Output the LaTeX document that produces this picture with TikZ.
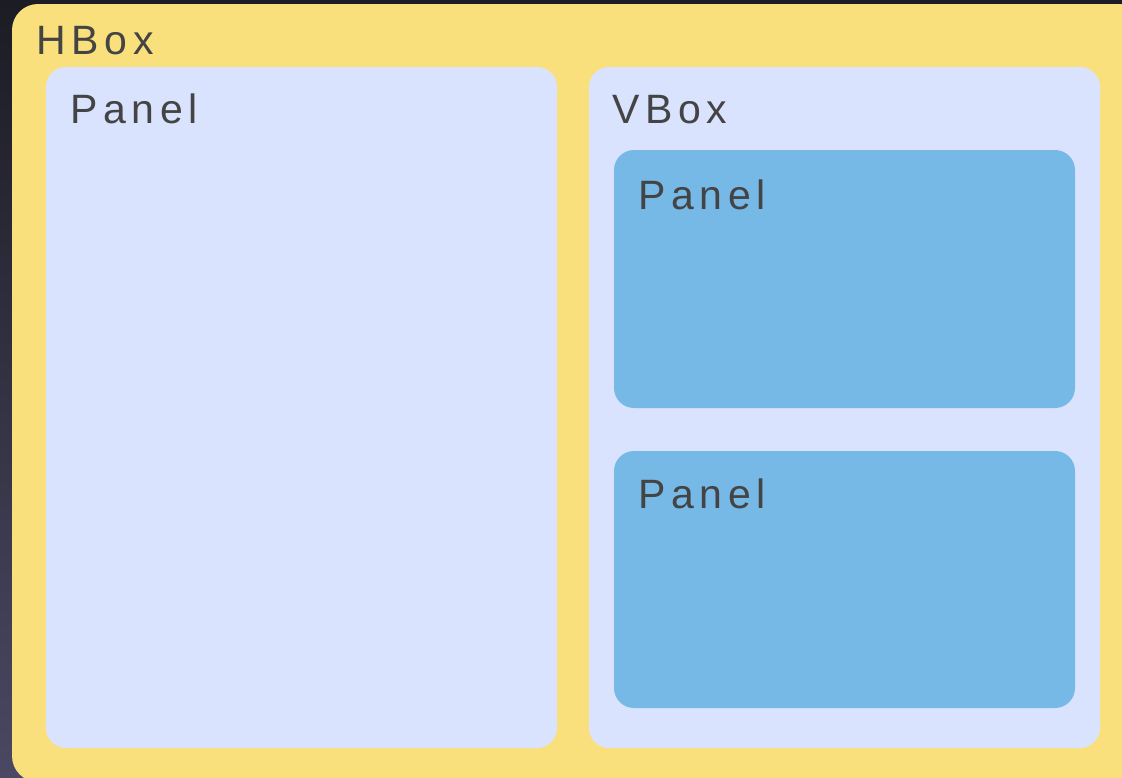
\documentclass[tikz,border=0pt]{standalone}
\usepackage{fontspec}
\setmainfont{Liberation Sans}[LetterSpace=14]
\definecolor{hbox}{HTML}{F9E07C}
\definecolor{pale}{HTML}{DAE3FE}
\definecolor{blue}{HTML}{76B8E6}
\definecolor{txt}{HTML}{444444}
\definecolor{bgtop}{HTML}{1C1C24}
\definecolor{bgbot}{HTML}{4A4862}
\tikzset{
  lbl/.style={anchor=base west, inner sep=0pt, text=txt, font=\fontsize{41}{48}\selectfont},
  box/.style={rounded corners=20pt}
}
\begin{document}
\begin{tikzpicture}[x=1pt,y=-1pt]
\useasboundingbox (0,0) rectangle (1122,777);
\shade[top color=bgtop, bottom color=bgbot] (0,0) rectangle (1122,777);
\fill[hbox, rounded corners=26pt] (12,4) rectangle (1145,782);
\fill[pale, box] (46,67) rectangle (557,748);
\fill[pale, box] (589,67) rectangle (1100,748);
\fill[blue, box] (614,150) rectangle (1075,408);
\fill[blue, box] (614,451) rectangle (1075,708);
\node[lbl] (hb) at (36,54) {HBox};
\node[lbl] (p1) at (70,123) {Panel};
\node[lbl] (vb) at (612,123) {VBox};
\node[lbl] (p2) at (638,209) {Panel};
\node[lbl] (p3) at (638,508) {Panel};
\end{tikzpicture}
\end{document}
